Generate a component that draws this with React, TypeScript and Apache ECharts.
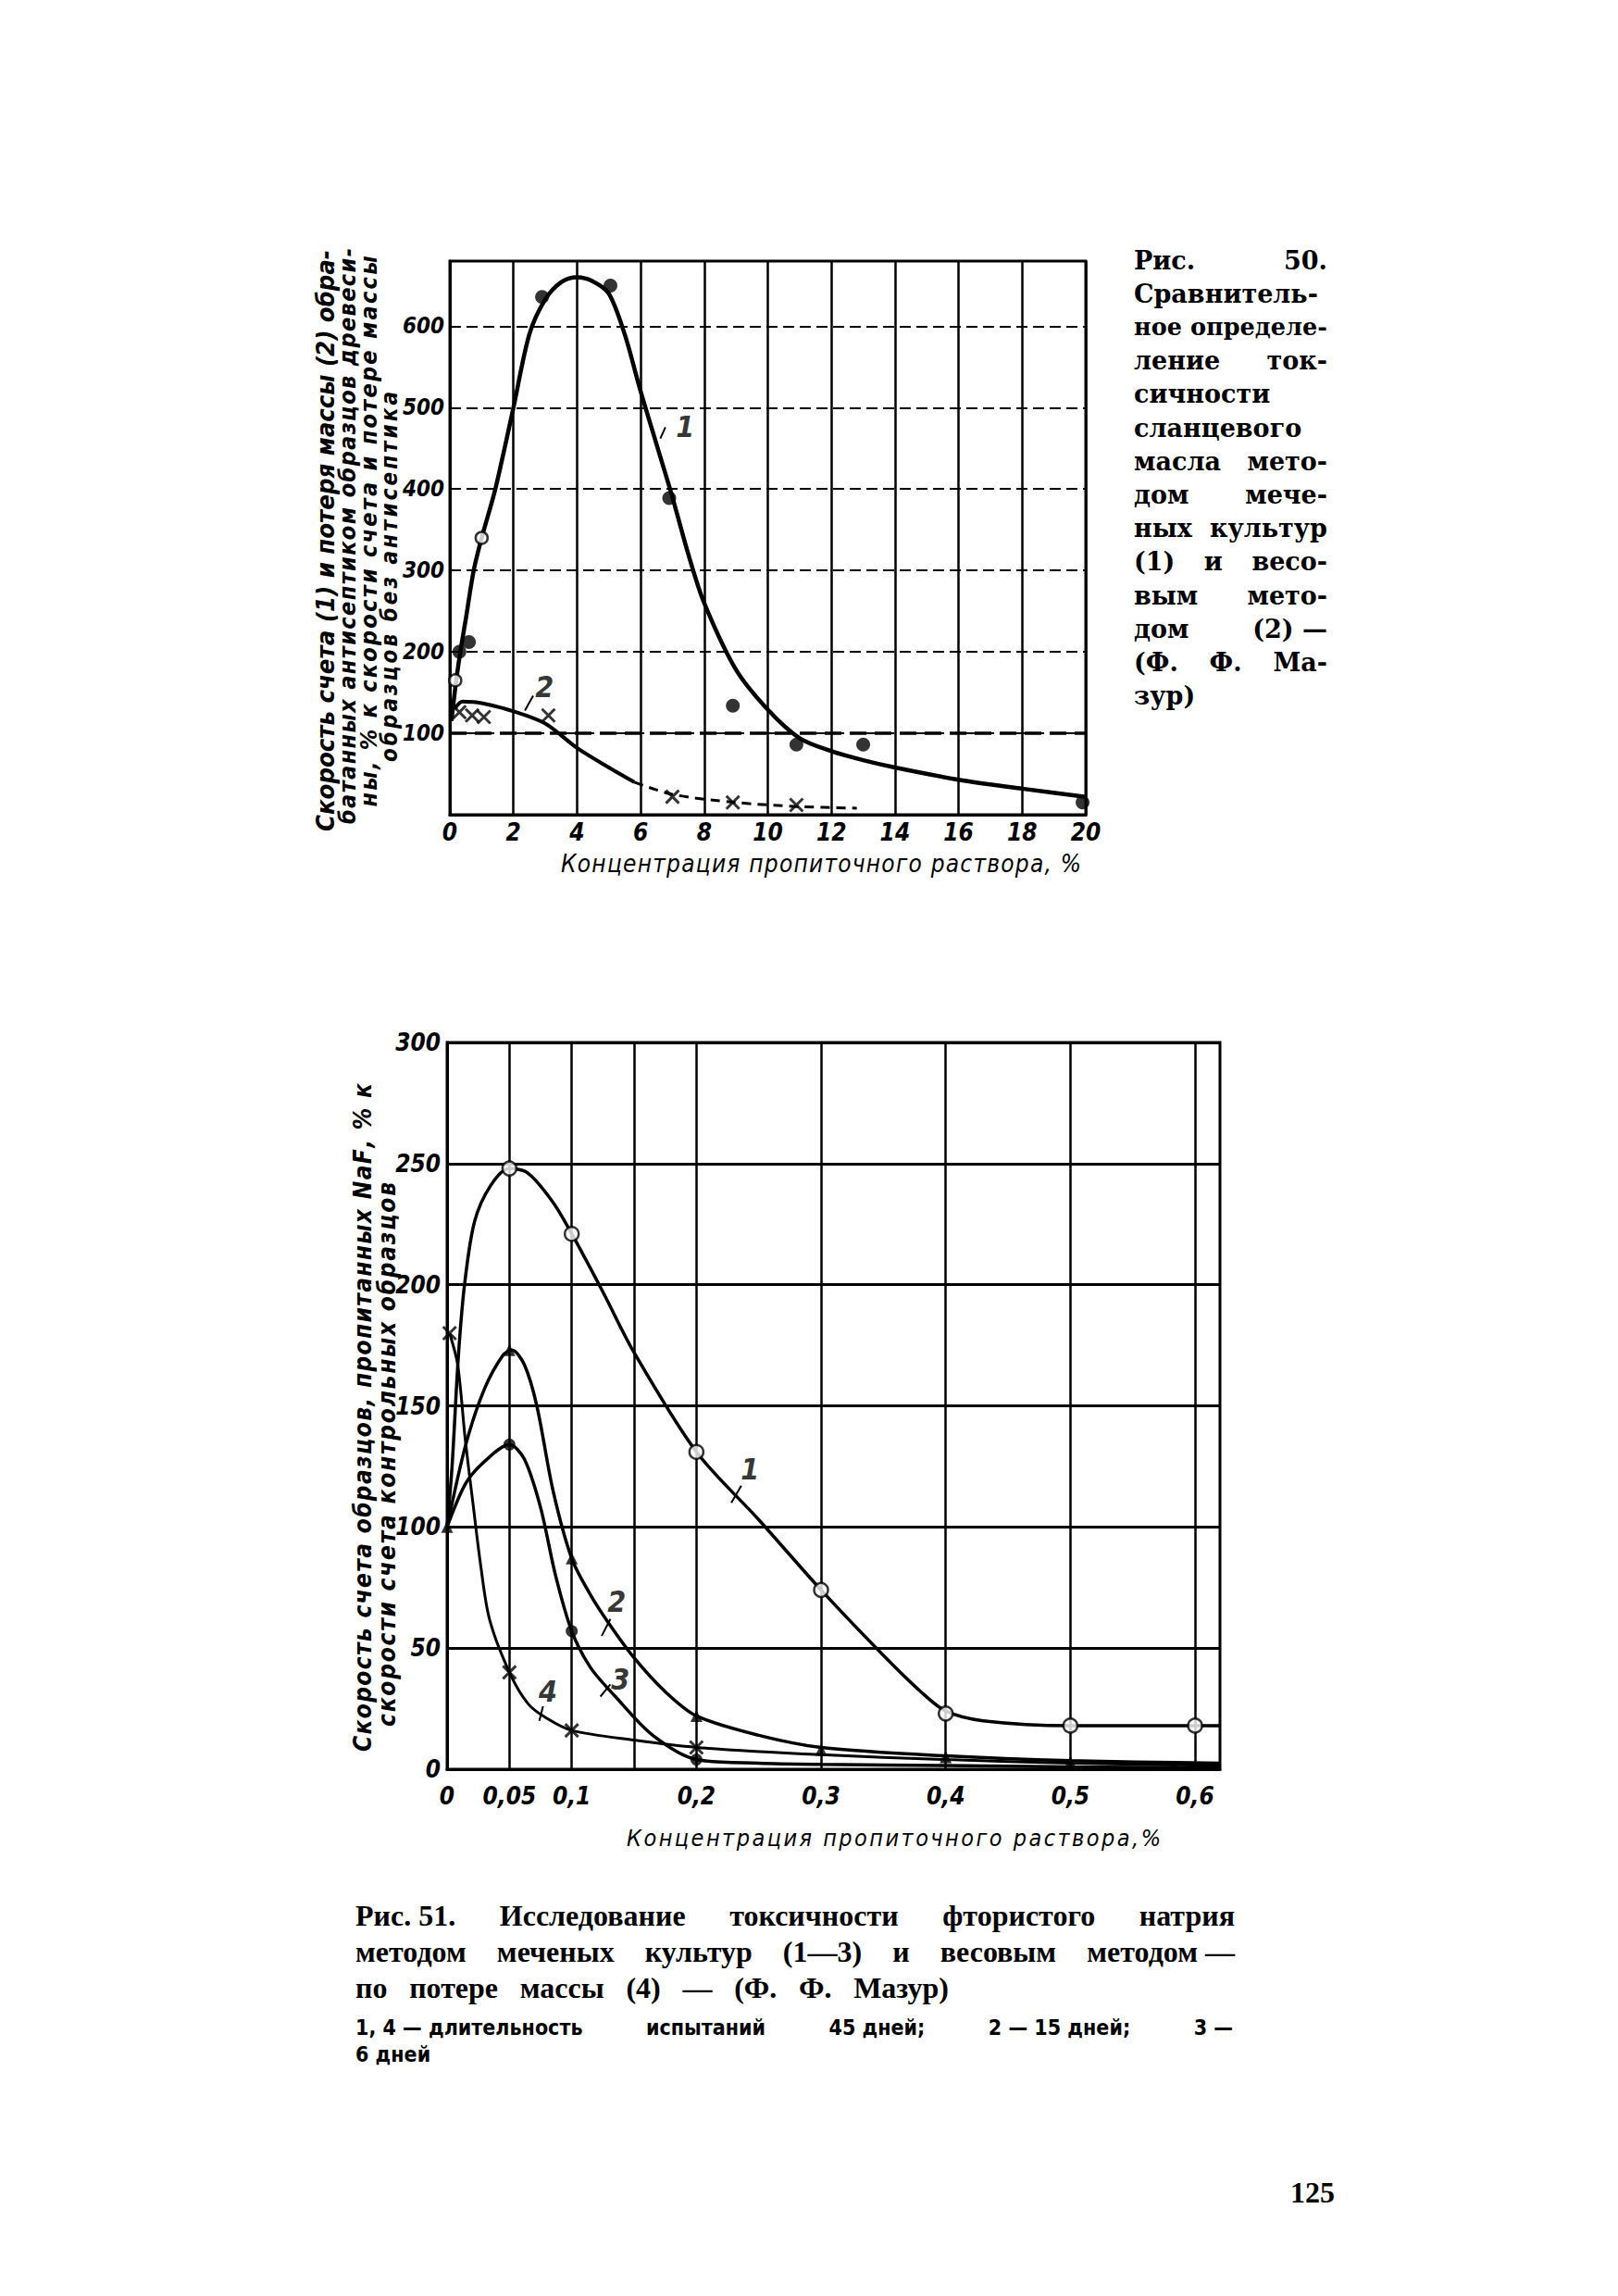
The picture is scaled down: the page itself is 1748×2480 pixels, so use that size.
import React, { useEffect, useRef } from "react";
import * as echarts from "echarts";

const W = 1748;
const H = 2480;

// ---------- Fig. 50 data (x: concentration %, y: % of control) ----------
const fig50Curve1 = [
  [0.05, 115], [0.2, 165], [0.35, 205], [0.5, 240], [0.75, 300], [1, 340], [1.43, 400],
  [2, 500], [2.5, 590], [3, 633], [3.5, 654], [4, 660], [4.5, 655], [5, 640], [5.5, 590],
  [6, 520], [6.5, 455], [7, 390], [7.5, 320], [8, 260], [9, 178], [10, 129], [11, 94],
  [12, 78], [13, 67], [14, 58], [16, 43], [18, 32], [20, 22],
];
const fig50Curve2Solid = [
  [0.15, 130], [0.4, 139], [1, 137], [2, 127], [3, 112], [4, 82], [5, 58], [5.8, 40],
];
const fig50Curve2Dashed = [[5.8, 40], [7, 25], [9, 15], [11, 10], [12.8, 8]];
const fig50Filled = [
  [0.3, 200], [0.6, 212], [2.9, 636], [5.05, 650], [6.9, 389], [8.9, 134], [10.9, 86], [13, 86], [19.9, 15],
];
const fig50Open = [[0.17, 165], [1, 340]];
const fig50Cross = [[0.3, 126], [0.7, 122], [1.07, 120], [3.1, 122], [7, 22], [8.9, 15], [10.9, 12]];
const fig50Labels = [{ name: "1", value: [7.4, 477] }, { name: "2", value: [2.98, 157] }];
const fig50Leaders = [
  [[6.78, 476], [6.62, 462]],
  [[2.62, 146], [2.36, 128]],
];
const fig50Reference = [100];

// ---------- Fig. 51 data ----------
const fig51Curve1 = [
  [0, 100], [0.004, 125], [0.009, 170], [0.014, 200], [0.022, 226], [0.035, 241], [0.05, 248],
  [0.065, 246], [0.085, 234], [0.1, 221], [0.125, 197], [0.15, 172], [0.2, 131], [0.25, 103],
  [0.3, 74], [0.35, 47], [0.38, 32], [0.4, 24], [0.43, 20], [0.5, 18], [0.6, 18], [0.62, 18],
];
const fig51Curve2 = [
  [0, 100], [0.015, 134], [0.03, 157], [0.045, 171], [0.052, 173], [0.062, 167], [0.072, 150],
  [0.085, 115], [0.1, 87], [0.115, 72], [0.13, 60], [0.15, 46], [0.175, 32], [0.2, 22],
  [0.25, 14], [0.3, 9], [0.4, 5.5], [0.5, 3.5], [0.62, 2.5],
];
const fig51Curve3 = [
  [0, 100], [0.015, 118], [0.03, 127], [0.05, 134], [0.062, 128], [0.075, 108], [0.087, 80],
  [0.1, 57], [0.115, 42], [0.135, 30], [0.165, 14], [0.2, 4], [0.25, 2.5], [0.3, 2],
  [0.4, 1.5], [0.5, 1], [0.62, 0.5],
];
const fig51Curve4 = [
  [0.002, 180], [0.0085, 167], [0.0146, 136], [0.0207, 110], [0.027, 84], [0.034, 62],
  [0.05, 40], [0.065, 27], [0.08, 21], [0.1, 16], [0.15, 12], [0.2, 9], [0.3, 6],
  [0.4, 4], [0.5, 2.5], [0.62, 1.5],
];
const fig51Open1 = [[0.05, 248], [0.1, 221], [0.2, 131], [0.3, 74], [0.4, 23], [0.5, 18], [0.6, 18]];
const fig51Tri2 = [[0, 100], [0.05, 173], [0.1, 87], [0.2, 22], [0.3, 8], [0.4, 5], [0.5, 3]];
const fig51Filled3 = [[0.05, 134], [0.1, 57], [0.2, 4]];
const fig51Cross4 = [[0.002, 180], [0.05, 40], [0.1, 16], [0.2, 9]];
const fig51Labels = [
  { name: "1", value: [0.243, 124] },
  { name: "2", value: [0.136, 69] },
  { name: "3", value: [0.139, 37] },
  { name: "4", value: [0.081, 32] },
];
const fig51Leaders = [
  [[0.236, 117], [0.228, 110]],
  [[0.131, 62], [0.124, 55]],
  [[0.131, 35], [0.123, 30]],
  [[0.077, 26], [0.074, 20]],
];
const fig51VerticalLines = [0.05, 0.1, 0.15, 0.2, 0.3, 0.4, 0.5, 0.6];
const fig51LabelledTicks = [0, 5, 10, 20, 30, 40, 50, 60]; // hundredths

// ---------- Texts ----------
const fig50YTitle = [
  "Скорость счета (1) и потеря массы (2) обра-",
  "батанных антисептиком образцов древеси-",
  "ны, % к скорости счета и потере массы",
  "образцов без антисептика",
];
const fig51YTitle = [
  "Скорость счета образцов, пропитанных NaF, % к",
  "скорости счета контрольных образцов",
];
const fig50XTitle = "Концентрация пропиточного раствора, %";
const fig51XTitle = "Концентрация пропиточного раствора,%";
const fig50Caption = [
  "Рис. 50.", "Сравнитель-", "ное определе-", "ление ток-", "сичности", "сланцевого",
  "масла мето-", "дом мече-", "ных культур", "(1) и весо-", "вым мето-", "дом (2)\u00a0—",
  "(Ф. Ф. Ма-", "зур)",
];
const fig51Caption = [
  "Рис.\u00a051. Исследование токсичности фтористого натрия",
  "методом меченых культур (1—3) и весовым методом\u00a0—",
  "по потере массы (4) — (Ф. Ф. Мазур)",
];
const fig51Note = [
  "1,\u00a04\u00a0—\u00a0длительность испытаний 45\u00a0дней; 2\u00a0—\u00a015\u00a0дней; 3\u00a0—",
  "6 дней",
];
const pageNumber = "125";

// ---------- Fonts ----------
const HAND = "'Liberation Sans Narrow', 'DejaVu Sans Condensed', 'Liberation Sans', sans-serif";
const SERIF50 = "'DejaVu Serif', serif";
const SERIF51 = "'Liberation Serif', serif";
const NOTE = "'DejaVu Sans Condensed', 'DejaVu Sans', sans-serif";

let ctx: CanvasRenderingContext2D | null = null;
function measureW(text: string, family: string, size: number, weight: string, style: string) {
  if (!ctx) ctx = document.createElement("canvas").getContext("2d");
  ctx!.font = `${style} ${weight} ${size}px ${family}`;
  return ctx!.measureText(text).width;
}

type Fnt = { family: string; size: number; weight?: string; style?: string };

// word-level justification (captions)
function layoutWords(text: string, f: Fnt, length: number, justify: boolean) {
  const weight = f.weight || "normal";
  const style = f.style || "normal";
  let size = f.size;
  const words = text.split(" ");
  let widths = words.map((w) => measureW(w, f.family, size, weight, style));
  let spaceW = measureW(" ", f.family, size, weight, style);
  const natural = widths.reduce((a, b) => a + b, 0) + spaceW * (words.length - 1);
  if (natural > length) {
    const k = length / natural;
    size *= k;
    widths = widths.map((w) => w * k);
    spaceW *= k;
  }
  const sumW = widths.reduce((a, b) => a + b, 0);
  const gap = justify && words.length > 1 ? (length - sumW) / (words.length - 1) : spaceW;
  let pos = 0;
  return words.map((w, i) => {
    const c = pos + widths[i] / 2;
    pos += widths[i] + gap;
    return { w, c, size };
  });
}

// letter-spaced layout (hand-lettered axis titles)
function layoutChars(text: string, f: Fnt, length: number) {
  const weight = f.weight || "normal";
  const style = f.style || "normal";
  const natural = measureW(text, f.family, 100, weight, style);
  const size = Math.min(f.size, (100 * length) / natural);
  const chars = Array.from(text);
  const widths = chars.map((ch) => measureW(ch, f.family, size, weight, style));
  const sumW = widths.reduce((a, b) => a + b, 0);
  const gap = chars.length > 1 ? (length - sumW) / (chars.length - 1) : 0;
  let pos = 0;
  const out: { w: string; c: number; size: number }[] = [];
  chars.forEach((ch, i) => {
    const c = pos + widths[i] / 2;
    pos += widths[i] + gap;
    if (ch.trim() !== "") out.push({ w: ch, c, size });
  });
  return out;
}

function txt(text: string, x: number, y: number, f: Fnt, rotation = 0, align = "center") {
  return {
    type: "text",
    x,
    y,
    rotation,
    silent: true,
    style: {
      text,
      fill: "#000",
      fontFamily: f.family,
      fontSize: f.size,
      fontWeight: f.weight || "normal",
      fontStyle: f.style || "normal",
      align,
      verticalAlign: "middle",
      textAlign: align,
      textVerticalAlign: "middle",
    },
  };
}

function hLine(text: string, x0: number, x1: number, y: number, f: Fnt, justify: boolean) {
  return layoutWords(text, f, x1 - x0, justify).map((p) =>
    txt(p.w, x0 + p.c, y, { ...f, size: p.size })
  );
}

function hSpaced(text: string, x0: number, x1: number, y: number, f: Fnt) {
  return layoutChars(text, f, x1 - x0).map((p) => txt(p.w, x0 + p.c, y, { ...f, size: p.size }));
}

function vSpaced(text: string, x: number, yCenter: number, length: number, f: Fnt) {
  const yBottom = yCenter + length / 2;
  return layoutChars(text, f, length).map((p) =>
    txt(p.w, x, yBottom - p.c, { ...f, size: p.size }, Math.PI / 2)
  );
}

function buildGraphic() {
  const g: any[] = [];
  // Fig 50 rotated y title
  const t50 = [
    { x: 351, c: 584, len: 628, size: 28 },
    { x: 375, c: 579, len: 622, size: 25 },
    { x: 398, c: 574, len: 595, size: 25 },
    { x: 421, c: 623, len: 400, size: 24 },
  ];
  fig50YTitle.forEach((t, i) =>
    g.push(...vSpaced(t, t50[i].x, t50[i].c, t50[i].len, { family: HAND, size: t50[i].size, weight: "bold", style: "italic" }))
  );
  // Fig 51 rotated y title
  const t51 = [
    { x: 392, c: 1531, len: 722 },
    { x: 418, c: 1571, len: 588 },
  ];
  fig51YTitle.forEach((t, i) =>
    g.push(...vSpaced(t, t51[i].x, t51[i].c, t51[i].len, { family: HAND, size: 26, weight: "bold", style: "italic" }))
  );
  // x titles
  g.push(...hSpaced(fig50XTitle, 606, 1168, 933, { family: HAND, size: 26, style: "italic" }));
  g.push(...hSpaced(fig51XTitle, 677, 1254, 1985, { family: HAND, size: 25, style: "italic" }));
  // Fig 50 caption (justified column)
  fig50Caption.forEach((t, i) => {
    const last = i === fig50Caption.length - 1;
    g.push(...hLine(t, 1225, 1434, 281 + i * 36.2, { family: SERIF50, size: 27, weight: "bold" }, !last));
  });
  // Fig 51 caption
  const capRight = [1334, 1334, 1025];
  fig51Caption.forEach((t, i) =>
    g.push(...hLine(t, 384, capRight[i], 2069 + i * 39, { family: SERIF51, size: 32, weight: "bold" }, true))
  );
  g.push(...hLine(fig51Note[0], 384, 1332, 2190, { family: NOTE, size: 23, weight: "bold" }, true));
  g.push(...hLine(fig51Note[1], 384, 1332, 2219, { family: NOTE, size: 23, weight: "bold" }, false));
  // page number
  g.push(txt(pageNumber, 1418, 2368, { family: SERIF51, size: 32, weight: "bold" }));
  return g;
}

const tickLabel = (size: number, margin: number) => ({
  color: "#000",
  fontFamily: HAND,
  fontSize: size,
  fontStyle: "italic",
  fontWeight: "bold",
  margin,
  hideOverlap: false,
});

function buildOption() {
  const curve = (data: number[][], i: number, width: number, dashed = false, extra: any = {}) => ({
    type: "line",
    xAxisIndex: i,
    yAxisIndex: i,
    data,
    smooth: 0.3,
    symbol: "none",
    showSymbol: false,
    silent: true,
    z: 3,
    lineStyle: { color: "#000", width, type: dashed ? [10, 7] : "solid" },
    ...extra,
  });
  const dots = (data: number[][], i: number, symbol: string, size: number, kind: "filled" | "open" | "stroke") => ({
    type: "scatter",
    xAxisIndex: i,
    yAxisIndex: i,
    data,
    symbol,
    symbolSize: size,
    silent: true,
    z: 5,
    itemStyle:
      kind === "filled"
        ? { color: "#000" }
        : kind === "open"
        ? { color: "#fff", borderColor: "#000", borderWidth: 2.5 }
        : { color: "none", borderColor: "#000", borderWidth: 3 },
  });
  const labels = (data: any[], i: number, size: number) => ({
    type: "scatter",
    xAxisIndex: i,
    yAxisIndex: i,
    data,
    symbolSize: 1,
    silent: true,
    z: 6,
    itemStyle: { color: "rgba(0,0,0,0)" },
    label: {
      show: true,
      position: "inside",
      formatter: "{b}",
      color: "#000",
      fontFamily: HAND,
      fontSize: size,
      fontStyle: "italic",
      fontWeight: "bold",
    },
  });
  const cross = "path://M0,0L10,10M10,0L0,10";

  const series: any[] = [
    // Fig 50
    curve(fig50Curve1, 0, 4.5, false, {
      markLine: {
        silent: true,
        symbol: ["none", "none"],
        label: { show: false },
        lineStyle: { color: "#000", width: 3.5, type: [18, 9] },
        data: fig50Reference.map((v) => ({ yAxis: v })),
      },
    }),
    curve(fig50Curve2Solid, 0, 4),
    curve(fig50Curve2Dashed, 0, 3, true),
    dots(fig50Filled, 0, "circle", 15, "filled"),
    dots(fig50Open, 0, "circle", 13, "open"),
    dots(fig50Cross, 0, cross, 14, "stroke"),
    labels(fig50Labels, 0, 32),
    ...fig50Leaders.map((d) => curve(d, 0, 2)),
    // Fig 51
    curve(fig51Curve1, 1, 3.5, false, {
      markLine: {
        silent: true,
        symbol: ["none", "none"],
        label: { show: false },
        lineStyle: { color: "#000", width: 2.5, type: "solid" },
        data: fig51VerticalLines.map((v) => ({ xAxis: v })),
      },
    }),
    curve(fig51Curve2, 1, 3.5),
    curve(fig51Curve3, 1, 3.5),
    curve(fig51Curve4, 1, 3),
    dots(fig51Open1, 1, "circle", 15, "open"),
    dots(fig51Tri2, 1, "triangle", 13, "filled"),
    dots(fig51Filled3, 1, "circle", 13, "filled"),
    dots(fig51Cross4, 1, cross, 14, "stroke"),
    labels(fig51Labels, 1, 32),
    ...fig51Leaders.map((d) => curve(d, 1, 2)),
  ];

  return {
    animation: false,
    backgroundColor: "#fff",
    grid: [
      { left: 486, top: 282, width: 687, height: 598, show: true, borderColor: "#000", borderWidth: 3, backgroundColor: "transparent" },
      { left: 483, top: 1126, width: 835, height: 785, show: true, borderColor: "#000", borderWidth: 3, backgroundColor: "transparent" },
    ],
    xAxis: [
      {
        type: "value",
        gridIndex: 0,
        min: 0,
        max: 20,
        interval: 2,
        axisLine: { show: true, lineStyle: { color: "#000", width: 3 } },
        axisTick: { show: false },
        splitLine: { show: true, lineStyle: { color: "#000", width: 2.5 } },
        axisLabel: tickLabel(26, 6),
      },
      {
        type: "value",
        gridIndex: 1,
        min: 0,
        max: 0.62,
        interval: 0.05,
        axisLine: { show: true, lineStyle: { color: "#000", width: 3 } },
        axisTick: { show: false },
        splitLine: { show: false },
        axisLabel: {
          ...tickLabel(26, 16),
          showMaxLabel: false,
          formatter: (v: number) => {
            const k = Math.round(v * 100);
            if (!fig51LabelledTicks.includes(k)) return "";
            if (k === 0) return "0";
            return k % 10 === 0 ? "0," + k / 10 : "0,0" + k;
          },
        },
      },
    ],
    yAxis: [
      {
        type: "value",
        gridIndex: 0,
        min: 0,
        max: 680,
        interval: 100,
        axisLine: { show: true, lineStyle: { color: "#000", width: 3 } },
        axisTick: { show: false },
        splitLine: { show: true, lineStyle: { color: "#000", width: 2, type: [12, 6] } },
        axisLabel: { ...tickLabel(24, 6), showMinLabel: false, showMaxLabel: false },
      },
      {
        type: "value",
        gridIndex: 1,
        min: 0,
        max: 300,
        interval: 50,
        axisLine: { show: true, lineStyle: { color: "#000", width: 3 } },
        axisTick: { show: false },
        splitLine: { show: true, lineStyle: { color: "#000", width: 3 } },
        axisLabel: tickLabel(26, 7),
      },
    ],
    series,
    graphic: buildGraphic(),
  };
}

export default function App() {
  const ref = useRef<HTMLDivElement>(null);
  useEffect(() => {
    if (!ref.current) return;
    const chart = echarts.init(ref.current, null, { renderer: "svg", width: W, height: H });
    chart.setOption(buildOption() as any);
    return () => chart.dispose();
  }, []);
  return (
    <div
      ref={ref}
      style={{ position: "absolute", left: 0, top: 0, width: W, height: H, background: "#fff" }}
    />
  );
}
